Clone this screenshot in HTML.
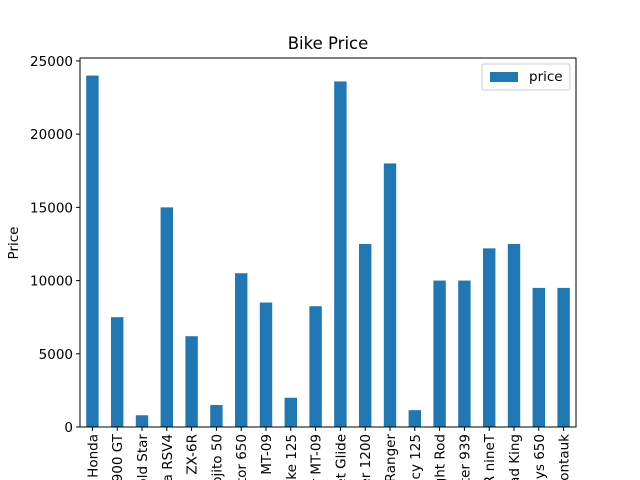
<!DOCTYPE html>
<html><head><meta charset="utf-8"><style>
html,body{margin:0;background:#fff;width:640px;height:480px;overflow:hidden}
svg{display:block}
svg text{font-family:"DejaVu Sans","Liberation Sans",sans-serif;fill:#000}
</style></head><body>
<svg id="chart" width="640" height="480">
<text x="328" y="49" font-size="16.5" text-anchor="middle">Bike Price</text>
<text transform="translate(18,243) rotate(-90)" font-size="13.5" text-anchor="middle">Price</text>
<g id="bars"></g><g id="yt"></g><g id="xt"></g>
<rect x="80" y="58" width="496" height="369" fill="none" stroke="#000" stroke-width="1"/>
<g>
<rect x="482" y="64" width="88" height="26" rx="2" fill="#fff" stroke="#ccc"/>
<rect x="490" y="72" width="28" height="10" fill="#1f77b4"/>
<text x="529" y="81" font-size="13.5">price</text>
</g>
</svg>
<script>
const categories=["Honda","Ducati 900 GT","Gold Star","Aprilia RSV4","Kawasaki ZX-6R","Mojito 50","Interceptor 650","Yamaha MT-09","Duke 125","Tracer MT-09","Street Glide","Sportster 1200","Ranger","Vespa Primavera Fancy 125","Night Rod","Streetfighter 939","R nineT","Road King","Guys 650","Montauk"];
const prices=[24000,7500,800,15000,6200,1500,10500,8500,2000,8250,23600,12500,18000,1150,10000,10000,12200,12500,9500,9500];
const yTicks=[0,5000,10000,15000,20000,25000];
const ns="http://www.w3.org/2000/svg";
const L=80,R=576,T=58,B=427,ymax=25200;
const y=v=>B-(v/ymax)*(B-T);
const step=(R-L)/categories.length;
const x=i=>L+step*(i+0.5);
function mk(t,a,p){const e=document.createElementNS(ns,t);for(const k in a)e.setAttribute(k,a[k]);p.appendChild(e);return e;}
const gb=document.getElementById('bars'),gy=document.getElementById('yt'),gx=document.getElementById('xt');
prices.forEach((v,i)=>{const r=mk('rect',{x:x(i)-step/4,y:y(v),width:step/2,height:B-y(v),fill:'#1f77b4'},gb);

});
yTicks.forEach(v=>{const l=mk('line',{x1:L-4,x2:L,y1:y(v),y2:y(v),stroke:'#000'},gy);


const t=mk('text',{x:L-7,y:y(v)+5,'font-size':13.5,'text-anchor':'end'},gy);t.textContent=v;

});
categories.forEach((c,i)=>{const l=mk('line',{x1:x(i),x2:x(i),y1:B,y2:B+4,stroke:'#000'},gx);


const t=mk('text',{transform:`translate(${x(i)+5},${B+7}) rotate(-90)`,'font-size':13.5,'text-anchor':'end'},gx);t.textContent=c;

});
</script>
</body></html>
